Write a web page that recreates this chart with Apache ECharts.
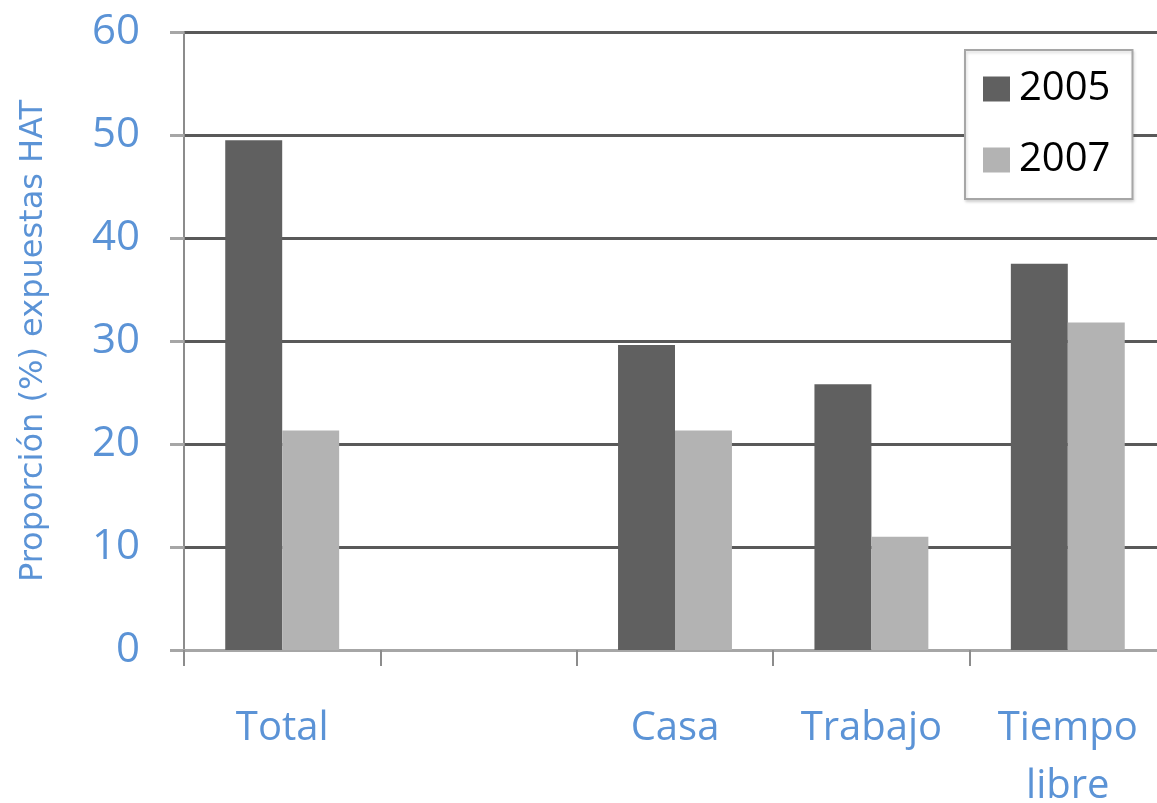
<!DOCTYPE html>
<html>
<head>
<meta charset="utf-8">
<script src="https://cdn.jsdelivr.net/npm/echarts@6/dist/echarts.min.js"></script>
<style>
  html, body { margin: 0; padding: 0; background: #fff; }
  #chart { width: 1157px; height: 803px; }
</style>
</head>
<body>
<div id="chart"></div>
<script>
// datos
const categorias = ['Total', '', 'Casa', 'Trabajo', 'Tiempo\nlibre'];
const serie2005 = [49.5, null, 29.6, 25.8, 37.5];
const serie2007 = [21.3, null, 21.3, 11.0, 31.8];
const nombresSeries = ['2005', '2007'];

const azul = '#5b93d6';
const fuente = '"Open Sans", "Noto Sans", sans-serif';

const chart = echarts.init(document.getElementById('chart'));

const option = {
  backgroundColor: '#fff',
  animation: false,
  grid: { left: 184, right: -9, top: 32, bottom: 153, outerBoundsMode: 'none', containLabel: false },
  legend: {
    orient: 'vertical',
    left: 965,
    top: 50,
    padding: [19, 22, 19, 18],
    itemGap: 31,
    itemWidth: 27,
    itemHeight: 25,
    backgroundColor: '#fff',
    borderColor: '#a6a6a6',
    borderWidth: 2,
    shadowColor: 'rgba(0,0,0,0.15)',
    shadowBlur: 3,
    shadowOffsetX: 1,
    shadowOffsetY: 2,
    data: nombresSeries,
    icon: 'rect',
    textStyle: { color: '#000', fontSize: 40, fontFamily: fuente, padding: [0, 0, 0, 4] }
  },
  xAxis: {
    type: 'category',
    data: categorias,
    axisLine: { lineStyle: { color: '#a6a6a6', width: 3 } },
    axisTick: { show: true, length: 16, lineStyle: { color: '#8c8c8c', width: 2 } },
    axisLabel: {
      color: azul, fontSize: 40, fontFamily: fuente, margin: 50, lineHeight: 58, interval: 0
    }
  },
  yAxis: {
    type: 'value',
    min: 0,
    max: 60,
    interval: 10,
    name: 'Proporción (%) expuestas HAT',
    nameLocation: 'middle',
    nameGap: 134,
    nameTextStyle: { color: azul, fontSize: 32, fontFamily: '"DejaVu Sans", sans-serif' },
    axisLine: { show: true, lineStyle: { color: '#8c8c8c', width: 2 } },
    axisTick: { show: true, length: 14, lineStyle: { color: '#a6a6a6', width: 3 } },
    axisLabel: { color: azul, fontSize: 42, fontFamily: fuente, margin: 44 },
    splitLine: { lineStyle: { color: '#595959', width: 3 } }
  },
  series: [
    {
      name: nombresSeries[0], type: 'bar', data: serie2005,
      barGap: '0%', barCategoryGap: '42%',
      itemStyle: { color: '#606060' }
    },
    {
      name: nombresSeries[1], type: 'bar', data: serie2007,
      barGap: '0%', barCategoryGap: '42%',
      itemStyle: { color: '#b3b3b3' }
    }
  ]
};

chart.setOption(option);
</script>
</body>
</html>
